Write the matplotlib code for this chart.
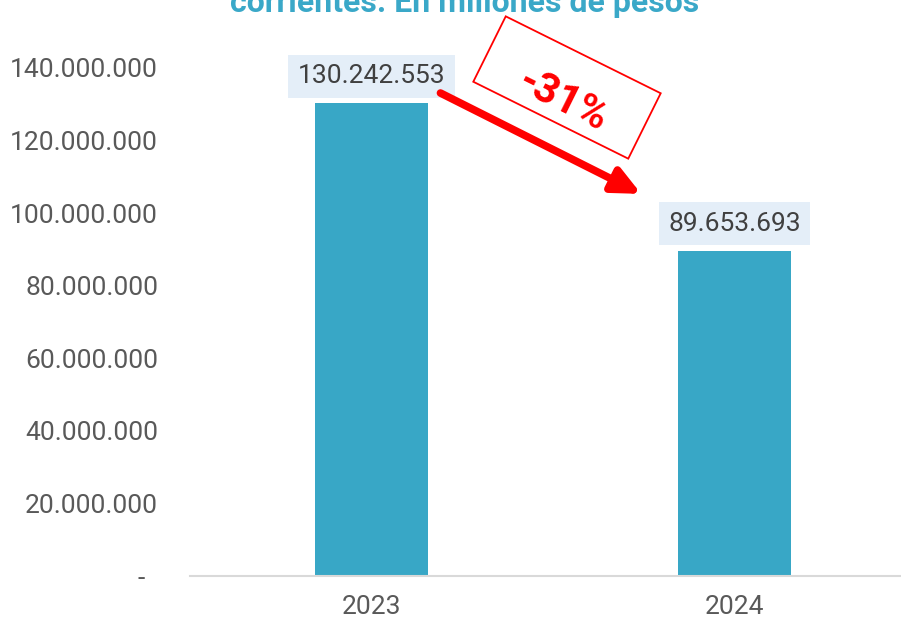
import matplotlib.pyplot as plt
from matplotlib.patches import Rectangle
from matplotlib.transforms import Affine2D, IdentityTransform
from matplotlib.ticker import FuncFormatter

years = ["2023", "2024"]
values = [130242553, 89653693]
value_labels = ["130.242.553", "89.653.693"]
change_label = "-31%"
title_line = "corrientes. En millones de pesos"
y_ticks = [0, 20000000, 40000000, 60000000, 80000000, 100000000, 120000000, 140000000]

BAR = "#38a7c6"
GRAY = "#595959"

plt.rcParams["font.family"] = ["Roboto", "DejaVu Sans"]

W, H = 901, 619
fig = plt.figure(figsize=(W / 100, H / 100), dpi=100)
# plot area: left at 190 px, baseline at 576 px, 140M at 68 px
ax = fig.add_axes([190 / W, 1 - 576 / H, 726 / W, (576 - 31.7) / H])

x = range(len(years))
ax.bar(x, values, width=0.314, color=BAR, zorder=2)

ax.set_xlim(-0.5, 1.5)
ax.set_ylim(0, 150000000)
ax.set_xticks(list(x))
ax.set_xticklabels(years)
ax.set_yticks(y_ticks)


def fmt(v, pos):
    if v == 0:
        return "-  "
    return f"{int(v):,}".replace(",", ".")


ax.yaxis.set_major_formatter(FuncFormatter(fmt))
ax.tick_params(axis="both", length=0, labelsize=19, labelcolor=GRAY)
ax.tick_params(axis="y", pad=23)
ax.tick_params(axis="x", pad=14)

for side in ["top", "right", "left"]:
    ax.spines[side].set_visible(False)
ax.spines["bottom"].set_color("#d9d9d9")
ax.spines["bottom"].set_linewidth(1.5)

# value labels with light boxes
for xi, v, lab in zip(x, values, value_labels):
    ax.annotate(lab, (xi, v), xytext=(0, 19.5), textcoords="offset points",
                ha="center", va="center", fontsize=19, color="#404040",
                bbox=dict(boxstyle="square,pad=0.36", fc="#e4eef8", ec="none"),
                zorder=3)

# red arrow between the two bars
ax.annotate("", xy=(0.743, 105300000), xytext=(0.19, 133100000),
            arrowprops=dict(arrowstyle="-|>,head_length=0.75,head_width=0.35",
                            lw=5.5, color="#ff0000", mutation_scale=22,
                            shrinkA=0, shrinkB=0),
            zorder=4)

# rotated box with the change
cx, cy = 567, H - 87.5
box = Rectangle((cx - 86.5, cy - 36.5), 173, 73, fill=False, ec="#ff0000", lw=1.3,
                transform=Affine2D().rotate_deg_around(cx, cy, -26.4) + IdentityTransform())
fig.add_artist(box)
fig.text(563 / W, 1 - 101 / H, change_label, rotation=-26.4, rotation_mode="anchor",
         ha="center", va="center", fontsize=30, fontweight="bold", color="#ff0000")

fig.text(465 / W, 1 - 12 / H, title_line, ha="center", va="baseline",
         fontsize=23, fontweight="bold", color="#3aa8c8")

fig.savefig("out.png", dpi=100)
